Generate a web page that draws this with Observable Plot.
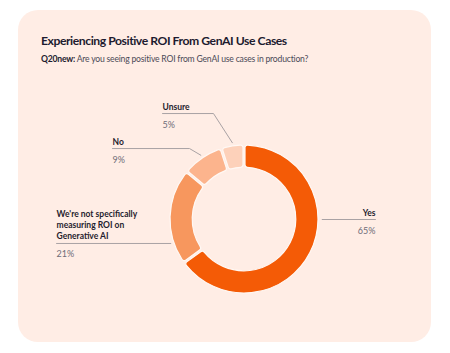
<!DOCTYPE html>
<html>
<head>
<meta charset="utf-8">
<script src="https://cdn.jsdelivr.net/npm/d3@7"></script>
<script src="https://cdn.jsdelivr.net/npm/@observablehq/plot@0.6"></script>
<style>
  body { margin: 0; background: #fff; font-family: Lato, "Noto Sans", sans-serif; }
  #wrap { position: relative; width: 450px; height: 353px; overflow: hidden; }
  #card { position: absolute; left: 18px; top: 10px; width: 413px; height: 332px; border-radius: 20px; background: #FFEDE5; }
  #title { position: absolute; left: 41px; top: 34px; font-size: 12.2px; letter-spacing: -0.45px; font-weight: 700; color: #1d1b2f; line-height: 14px; white-space: nowrap; }
  #sub { position: absolute; left: 41px; top: 54px; font-size: 8.6px; letter-spacing: -0.2px; color: #4b4a57; line-height: 10px; white-space: nowrap; }
  #sub b { color: #1d1b2f; }
  #chart { position: absolute; left: 0; top: 0; }
</style>
</head>
<body>
<div id="wrap">
  <div id="card"></div>
  <div id="title">Experiencing Positive ROI From GenAI Use Cases</div>
  <div id="sub"><b>Q20new:</b> Are you seeing positive ROI from GenAI use cases in production?</div>
  <div id="chart"></div>
</div>
<script>
// Survey answers, in the order they run clockwise from 12 o'clock
const categories = ["Yes", "We're not specifically measuring ROI on Generative AI", "No", "Unsure"];
const shares = [65, 21, 9, 5];
const labelText = ["Yes", "We're not specifically\nmeasuring ROI on\nGenerative AI", "No", "Unsure"];
const palette = ["#F45B06", "#F7975E", "#FCB48D", "#FDD1BA"];

const data = categories.map((category, i) => ({category, share: shares[i], label: labelText[i]}));
const color = d3.scaleOrdinal(categories, palette);

// Ring geometry in units of the outer radius (the plot frame spans [-1, 1])
const innerRatio = 0.70;
const arcs = d3.pie().sort(null).value(d => d.share)(data);

// Label placement: which side, height of the leader's horizontal run, text anchor x, elbow x
const layout = {
  "Yes": {side: "right", lineY: 0, textX: 1.77},
  "We're not specifically measuring ROI on Generative AI": {side: "left", lineY: -0.324, textX: -2.54},
  "No": {side: "left", lineY: 0.959, textX: -1.784, elbowX: -0.743},
  "Unsure": {side: "left", lineY: 1.432, textX: -1.108, elbowX: -0.419}
};

const gap = 0.05;
const leaders = [];
const labels = [];
for (const a of arcs) {
  const c = a.data.category;
  const L = layout[c];
  const pts = [];
  if (L.elbowX !== undefined) {
    // horizontal run, then a diagonal into the middle of the slice
    const mid = (a.startAngle + a.endAngle) / 2;
    pts.push({x: L.textX, y: L.lineY}, {x: L.elbowX, y: L.lineY},
             {x: Math.sin(mid) * (1 + gap), y: Math.cos(mid) * (1 + gap)});
  } else {
    // horizontal run that stops just short of the ring's outer edge
    const edge = Math.sqrt(1 - L.lineY * L.lineY) + gap;
    pts.push({x: L.textX, y: L.lineY}, {x: L.side === "right" ? edge : -edge, y: L.lineY});
  }
  pts.forEach(p => leaders.push({category: c, ...p}));
  labels.push({category: c, label: a.data.label, pct: `${a.data.share}%`, x: L.textX, y: L.lineY,
               anchor: L.side === "right" ? "end" : "start"});
}

function ring(index, {x, y}) {
  const cx = x(0), cy = y(0), r = x(1) - x(0);
  const arc = d3.arc().innerRadius(r * innerRatio).outerRadius(r).padAngle(0.022).cornerRadius(2.5);
  const g = d3.create("svg:g").attr("transform", `translate(${cx},${cy})`);
  g.selectAll("path").data(arcs).join("path")
    .attr("d", arc)
    .attr("fill", d => color(d.data.category))
    .attr("stroke", "#fff8f4")
    .attr("stroke-width", 1.2);
  return g.node();
}

const textOpts = {fontFamily: "Lato, sans-serif"};
const right = labels.filter(d => d.anchor === "end");
const left = labels.filter(d => d.anchor === "start");

const chart = Plot.plot({
  width: 450,
  height: 353,
  marginLeft: 170,
  marginRight: 132,
  marginTop: 145,
  marginBottom: 60,
  x: {domain: [-1, 1], axis: null},
  y: {domain: [-1, 1], axis: null},
  style: {background: "none", overflow: "visible"},
  marks: [
    ring,
    Plot.line(leaders, {x: "x", y: "y", z: "category", stroke: "#a9a2a4", strokeWidth: 1}),
    ...[[left, "start"], [right, "end"]].flatMap(([rows, anchor]) => [
      Plot.text(rows, {x: "x", y: "y", text: "label", textAnchor: anchor, lineAnchor: "bottom", dy: -4,
                       fontSize: 8.5, fontWeight: "bold", lineHeight: 1.3, fill: "#1f1d2e", ...textOpts}),
      Plot.text(rows, {x: "x", y: "y", text: "pct", textAnchor: anchor, lineAnchor: "bottom", dy: 14,
                       fontSize: 9, fill: "#6e6c78", ...textOpts})
    ])
  ]
});
document.getElementById("chart").append(chart);
</script>
</body>
</html>
